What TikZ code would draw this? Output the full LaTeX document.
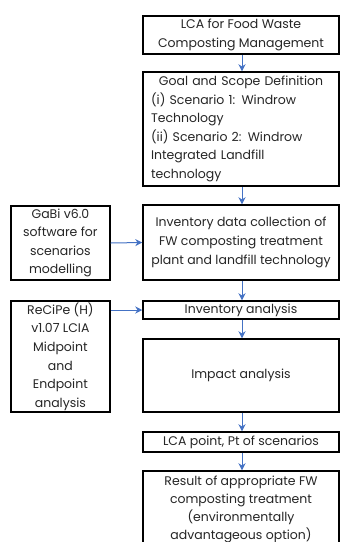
\documentclass[tikz,border=0pt]{standalone}
\usepackage{fontspec}
\setmainfont{Poppins}
\usetikzlibrary{arrows.meta}
\definecolor{arrowblue}{HTML}{4472C4}
\definecolor{txt}{HTML}{262626}
\tikzset{
  box/.style={draw=black, line width=1.5pt, inner sep=0pt, text=txt,
    font=\fontsize{12.5}{18.6}\selectfont, align=center},
  mainbox/.style={box, minimum width=196pt},
  sidebox/.style={box, minimum width=99pt},
  flow/.style={draw=arrowblue, line width=1pt, -{Stealth[length=7pt,width=7pt]}}
}
\begin{document}
\begin{tikzpicture}[x=1pt,y=-1pt]
\useasboundingbox (0,0) rectangle (341,542);
\clip (0,0) rectangle (341,542);
\fill[white] (0,0) rectangle (341,542);

\node[mainbox, minimum height=38pt] (b1) at (241,35) {LCA for Food Waste\\Composting Management};
\node[mainbox, minimum height=114pt, text width=180pt, align=left] (b2) at (241,129)
  {\makebox[180pt][c]{Goal and Scope Definition}\\(i) Scenario 1: Windrow\\Technology\\(ii) Scenario 2: Windrow\\Integrated Landfill\\technology};
\node[mainbox, minimum height=75pt] (b3) at (241,242.5) {Inventory data collection of\\FW composting treatment\\plant and landfill technology};
\node[mainbox, minimum height=18pt] (b4) at (241,310) {Inventory analysis};
\node[mainbox, minimum height=73pt] (b5) at (241,375.5) {Impact analysis};
\node[mainbox, minimum height=20pt] (b6) at (241,442) {LCA point, Pt of scenarios};
\node[mainbox, minimum height=76pt, font=\fontsize{12.5}{18}\selectfont] (b7) at (241,509) {Result of appropriate FW\\composting treatment\\(environmentally\\advantageous option)};

\node[sidebox, minimum height=74pt] (g) at (60.4,243) {GaBi v6.0\\software for\\scenarios\\modelling};
\node[sidebox, minimum height=111pt] (r) at (60.4,356.5) {ReCiPe (H)\\v1.07 LCIA\\Midpoint\\and\\Endpoint\\analysis};

\draw[flow] (b1.south -| 242,0) -- (b2.north -| 242,0);
\draw[flow] (b2.south -| 242,0) -- (b3.north -| 242,0);
\draw[flow] (b3.south -| 242,0) -- (b4.north -| 242,0);
\draw[flow] (b4.south -| 242,0) -- (b5.north -| 242,0);
\draw[flow] (b5.south -| 242,0) -- (b6.north -| 242,0);
\draw[flow] (b6.south -| 242,0) -- (b7.north -| 242,0);
\draw[flow] (g.east) -- (b3.west);
\draw[flow] (r.east |- b4.west) -- (b4.west);
\end{tikzpicture}
\end{document}
